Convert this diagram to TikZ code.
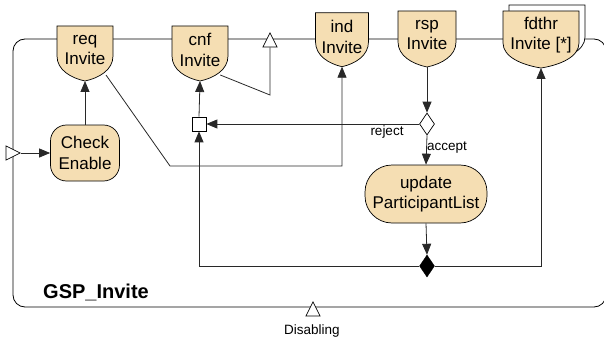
\documentclass[tikz,border=0pt]{standalone}
\usepackage{fontspec}
\setmainfont{Liberation Sans}
\usetikzlibrary{arrows.meta,shapes.geometric,calc}
\definecolor{wheat}{RGB}{245,222,179}
\definecolor{ln}{RGB}{40,40,40}
\tikzset{
  shieldbox/.style={inner sep=0pt, outer sep=0pt, anchor=north},
  shieldline/.style={draw=black, line width=0.7pt},
  shieldtext/.style={align=center, inner sep=0pt, font=\fontsize{17}{20.5}\selectfont},
  actbox/.style={draw=black, line width=0.7pt, fill=wheat, align=center, inner sep=0pt,
    font=\fontsize{17}{20.5}\selectfont},
  conn/.style={draw=ln, line width=0.8pt},
  arr/.style={conn, -{Triangle[length=11pt,width=9pt]}},
  lbl/.style={inner sep=0pt, font=\fontsize{13.5}{15}\selectfont},
  bordertri/.style={isosceles triangle, isosceles triangle stretches, draw=black,
    line width=0.7pt, fill=white, inner sep=0pt, minimum width=14pt, minimum height=14pt},
  merge/.style={draw=black, line width=0.7pt, fill=white, minimum size=14pt, inner sep=0pt},
  decis/.style={diamond, draw=black, line width=0.7pt, fill=white, minimum width=15pt,
    minimum height=22pt, inner sep=0pt},
  joinbar/.style={diamond, draw=black, fill=black, minimum width=15pt,
    minimum height=22pt, inner sep=0pt}
}
\newcommand\shieldshape[2]{%
  \filldraw[shieldline, fill=#2] (#1.north west) -- ([yshift=25pt]#1.south west)
     .. controls ([yshift=11pt]#1.south west) and ($(#1.south)!0.5!(#1.south west)+(0,-3)$) .. (#1.south)
     .. controls ($(#1.south)!0.5!(#1.south east)+(0,-3)$) and ([yshift=11pt]#1.south east) .. ([yshift=25pt]#1.south east)
     -- (#1.north east) -- cycle;}
\newcommand\mkshield[6]{% name, cx, top, width, height, text
  \node[shieldbox, minimum width=#4pt, minimum height=#5pt] (#1) at (#2,#3) {};
  \shieldshape{#1}{wheat}
  \node[shieldtext] (#1T) at ([yshift=-24pt]#1.north) {#6};}
\begin{document}
\begin{tikzpicture}[x=1pt,y=-1pt]
\useasboundingbox (0,0) rectangle (604,342);
% frame
\draw[black, line width=0.8pt, rounded corners=12pt] (13,39) rectangle (606,307);
% border triangles
\node[bordertri, shape border rotate=90, anchor=apex] (trTop) at (270,32) {};
\node[bordertri, anchor=apex] (trL) at (21,153) {};
\node[bordertri, shape border rotate=90, anchor=apex] (trB) at (313,301) {};
\node[lbl] (dis) at (312,331) {Disabling};
% shields
\mkshield{req}{85}{26}{56}{55}{req\\Invite}
\mkshield{cnf}{200}{26}{56}{55}{cnf\\Invite}
\mkshield{ind}{342}{12.7}{53}{54}{ind\\Invite}
\mkshield{rsp}{427}{11}{58}{56}{rsp\\Invite}
\node[shieldbox, minimum width=76pt, minimum height=57pt] (fdthrB) at (547,5) {};
\shieldshape{fdthrB}{white}
\mkshield{fdthr}{541}{11}{76}{57}{fdthr\\Invite [*]}
% activities
\node[actbox, rounded corners=16pt, minimum width=69pt, minimum height=56pt] (chk) at (85,153) {Check\\Enable};
\node[actbox, rounded corners=27pt, minimum width=122pt, minimum height=58pt] (upd) at (426,194) {update\\ParticipantList};
% control nodes
\node[merge] (sq) at (199,124) {};
\node[decis] (dec) at (427,124) {};
\node[joinbar] (bd) at (427,266) {};
% labels
\node[lbl] (rej) at (387,132) {reject};
\node[lbl, anchor=west] (acc) at (427,148) {accept};
\node[font=\bfseries\fontsize{20}{24}\selectfont, anchor=base west, inner sep=0pt] (title) at (43,298) {GSP\_Invite};
% bend points
\coordinate (bendA) at (170,166);
\coordinate (bendB) at (270,95);
% connectors
\draw[arr] (trL.apex) -- (chk.west);
\draw[arr] (chk.north) -- (req.south);
\draw[arr] ([shift={(-7,-6)}]req.south east) -- (bendA) -| (ind.south);
\draw[conn] ([shift={(-7.7,-6)}]cnf.south east) -- (bendB) -- (trTop.lower side);
\draw[arr] (sq.north) -- (cnf.south);
\draw[arr] (dec.west) -- (sq.east);
\draw[arr] (rsp.south) -- (dec.north);
\draw[arr] (dec.south) -- (upd.north);
\draw[arr] (upd.south) -- (bd.north);
\draw[arr] (bd.west) -| (sq.south);
\draw[arr] (bd.east) -| (fdthr.south);
\end{tikzpicture}
\end{document}
